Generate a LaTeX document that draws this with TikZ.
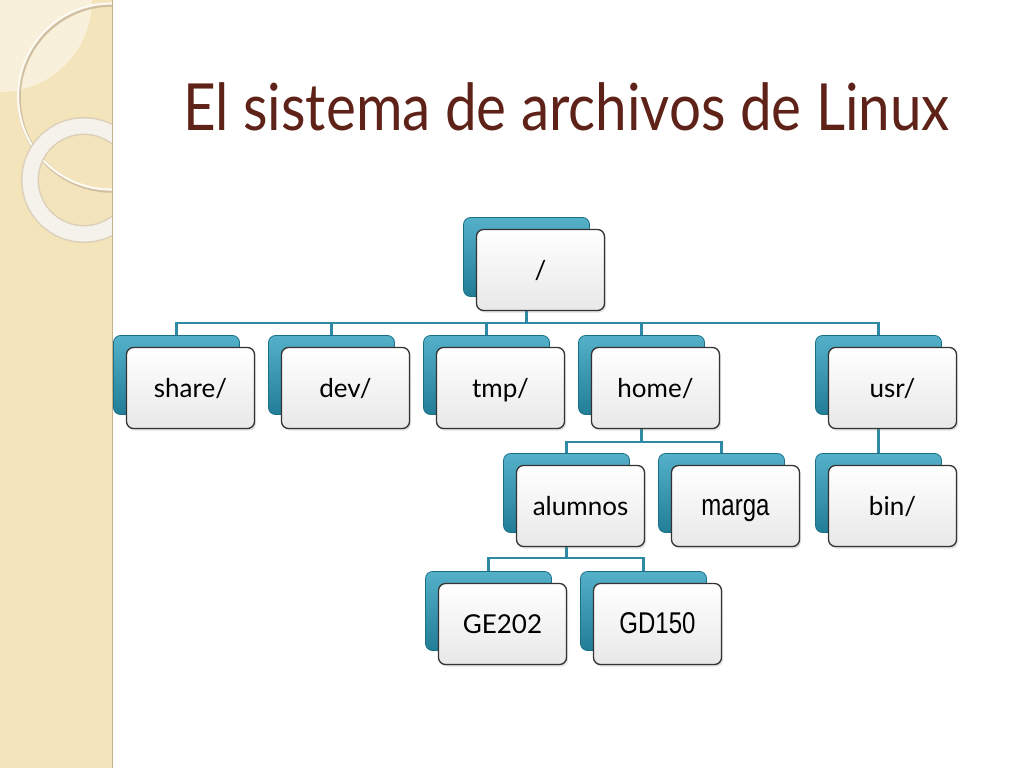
\documentclass[tikz,border=0pt]{standalone}
\usepackage{fontspec}
\setmainfont{Lato}
\newfontfamily\arialfont{Liberation Sans}
\usetikzlibrary{shadows}

\definecolor{stripbeige}{HTML}{F3E4BC}
\definecolor{stripedge}{HTML}{C4B089}
\definecolor{titlebrown}{HTML}{5E2218}
\definecolor{boxteal}{HTML}{2A9DBB}
\definecolor{boxtealdark}{HTML}{1A6F87}
\definecolor{linkteal}{HTML}{2E8AA4}

\newcommand{\narrowtext}[1]{\arialfont\fontsize{30}{34}\selectfont\scalebox{0.8}[1]{#1}}

\tikzset{
  backbox/.style={draw=boxtealdark, line width=0.8pt, rounded corners=7pt,
    top color=boxteal!80!white, bottom color=boxteal!80!black,
    minimum width=126pt, minimum height=79pt, inner sep=0pt},
  frontbox/.style={draw=black!80, line width=1.3pt, rounded corners=7pt,
    top color=white, bottom color=black!9,
    drop shadow={opacity=0.25, shadow xshift=1.5pt, shadow yshift=-2pt},
    minimum width=128pt, minimum height=81pt, inner sep=0pt,
    text height=20pt, text depth=2pt,
    font=\fontsize{26}{30}\selectfont},
  link/.style={draw=linkteal, line width=2.6pt}
}

\begin{document}
\begin{tikzpicture}[x=1pt, y=-1pt]

\useasboundingbox (0,0) rectangle (1024,768);

% Left strip
\begin{scope}
  \clip (0,0) rectangle (112,768);
  \fill[stripbeige] (0,0) rectangle (112,768);
  \fill[white!45!stripbeige] (0,0) circle (92);
  \draw[stripedge!80, line width=3.5pt] (112,98) circle (93);
  \draw[white!80!stripbeige, line width=2.2pt] (111,96.5) circle (93);
  \draw[stripedge!60, line width=18pt] (84,180) circle (54);
  \draw[black!4!white!85!stripbeige, line width=15pt] (84,180) circle (54);
\end{scope}
\draw[stripedge, line width=1.5pt] (112.5,0) -- (112.5,768);

% Title
\node[anchor=base west, inner sep=0pt, text=titlebrown,
  font=\fontsize{65}{70}\selectfont] (title) at (183,130)
  {\scalebox{0.87}[1]{El sistema de archivos de Linux}};

% Connectors
\coordinate (rootbk) at (526.5,257);
\coordinate (sharebk) at (176.5,375);
\coordinate (devbk) at (331.5,375);
\coordinate (tmpbk) at (486.5,375);
\coordinate (homebk) at (641.5,375);
\coordinate (usrbk) at (878.5,375);
\coordinate (alumnosbk) at (566.5,493);
\coordinate (margabk) at (721.5,493);
\coordinate (binbk) at (878.5,493);
\coordinate (gebk) at (488.5,611);
\coordinate (gdbk) at (643.5,611);

\foreach \kid in {sharebk,devbk,tmpbk,homebk,usrbk}
  \draw[link] (rootbk) -- ++(0,66) -| (\kid);
\foreach \kid in {alumnosbk,margabk}
  \draw[link] (homebk) -- ++(0,67) -| (\kid);
\draw[link] (usrbk) -- (binbk);
\foreach \kid in {gebk,gdbk}
  \draw[link] (alumnosbk) -- ++(0,65) -| (\kid);

% Boxes: teal back, white front
\node[backbox] (rootb) at (rootbk) {};
\node[frontbox] (root) at (540.5,270) {/};

\node[backbox] (shareb) at (sharebk) {};
\node[frontbox] (share) at (190.5,388) {share/};
\node[backbox] (devb) at (devbk) {};
\node[frontbox] (dev) at (345.5,388) {dev/};
\node[backbox] (tmpb) at (tmpbk) {};
\node[frontbox] (tmp) at (500.5,388) {tmp/};
\node[backbox] (homeb) at (homebk) {};
\node[frontbox] (home) at (655.5,388) {home/};
\node[backbox] (usrb) at (usrbk) {};
\node[frontbox] (usr) at (892.5,388) {usr/};

\node[backbox] (alumnosb) at (alumnosbk) {};
\node[frontbox] (alumnos) at (580.5,506) {alumnos};
\node[backbox] (margab) at (margabk) {};
\node[frontbox] (marga) at (735.5,506) {\narrowtext{marga}};
\node[backbox] (binb) at (binbk) {};
\node[frontbox] (bin) at (892.5,506) {bin/};

\node[backbox] (geb) at (gebk) {};
\node[frontbox] (ge) at (502.5,624) {GE202};
\node[backbox] (gdb) at (gdbk) {};
\node[frontbox] (gd) at (657.5,624) {\narrowtext{GD150}};

\end{tikzpicture}
\end{document}
